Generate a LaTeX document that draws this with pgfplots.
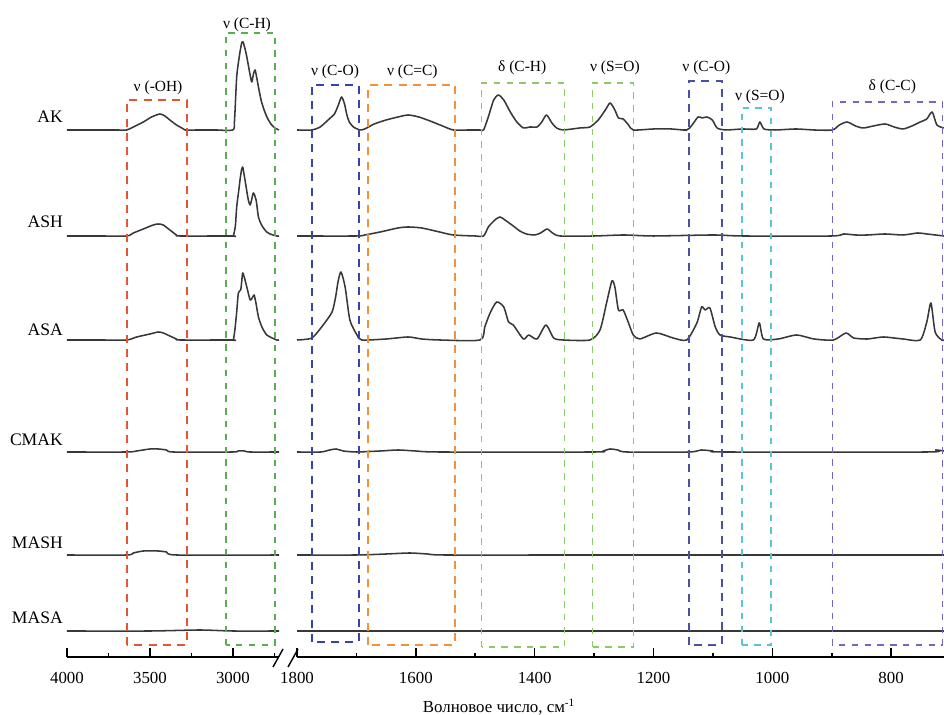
\documentclass[border=0pt]{standalone}
\usepackage{fontspec}
\setmainfont{Liberation Serif}
\usepackage{pgfplots}
\pgfplotsset{compat=1.18}

\definecolor{specgray}{HTML}{383838}
\definecolor{boxred}{HTML}{E4572E}
\definecolor{boxgreen}{HTML}{55B04F}
\definecolor{boxblue}{HTML}{3346A8}
\definecolor{boxorange}{HTML}{F0923A}
\definecolor{boxlgreen}{HTML}{8DC86B}
\definecolor{boxnavy}{HTML}{4B4FA6}
\definecolor{boxcyan}{HTML}{58C4D6}
\definecolor{boxpurple}{HTML}{6E6AC0}

\pgfplotsset{
  spec/.style={
    scale only axis, height=164.25mm, ymin=0, ymax=657,
    x dir=reverse, axis x line*=bottom, axis y line=none,
    axis line style={line width=1.2pt},
    xtick align=inside, major tick length=2.2mm, minor tick length=1mm,
    tick style={line width=1.1pt, black},
    ytick=\empty, clip=false, anchor=south west,
    xticklabel style={font=\fontsize{12}{14}\selectfont, yshift=-2.5mm},
    /pgf/number format/assume math mode=true,
    /pgf/number format/1000 sep={},
  },
  sp/.style={no marks, smooth, tension=0.4, line width=1.1pt, color=specgray, line join=round},
}
\tikzset{
  box/.style={line width=1.2pt, dash pattern=on 2mm off 1.6mm},
  lbox/.style={line width=1pt, dash pattern=on 1.6mm off 1.6mm},
  lab/.style={font=\fontsize{11}{13}\selectfont, inner sep=0pt},
  name/.style={font=\fontsize{12.5}{14}\selectfont, anchor=east, inner sep=0pt},
}

\begin{document}
\begin{tikzpicture}[x=0.25mm, y=0.25mm]
\useasboundingbox (0,0) rectangle (944,715);

% left part: 4000-2722
\begin{axis}[spec, at={(16.75mm,14.5mm)}, width=53mm, xmin=2722, xmax=4000,
  xtick={3000,3500,4000}, minor xtick={2750,3250,3750}]
\addplot[sp] coordinates {(4000,527) (3800,527) (3700,527) (3640,527) (3600,530) (3540,535) (3490,540) (3440,543) (3410,541) (3380,537) (3340,532) (3308,529) (3288,527) (3200,527) (3100,527) (3000,527) (2990,537) (2977,580) (2960,602) (2947,614) (2939,615) (2928,609) (2916,600) (2896,582) (2886,575) (2876,583) (2866,587) (2856,579) (2846,570) (2830,557) (2816,549) (2800,542) (2786,537) (2766,532) (2746,529) (2722,527)};
\addplot[sp] coordinates {(4000,421) (3800,421) (3640,421) (3600,424) (3540,428) (3480,432) (3450,433) (3420,432) (3380,427) (3340,422) (3320,421) (3000,421) (2997,421) (2985,431) (2977,450) (2965,466) (2957,477) (2948,487) (2941,490) (2934,484) (2927,477) (2907,457) (2896,452) (2886,458) (2876,464) (2860,457) (2846,440) (2830,433) (2816,429) (2796,425) (2776,423) (2736,421) (2722,421)};
\addplot[sp] coordinates {(4000,317) (3800,317) (3640,317) (3580,320) (3500,323) (3450,325) (3420,324) (3380,321) (3340,318) (3320,317) (3000,317) (2997,317) (2988,327) (2977,345) (2967,364) (2953,367) (2947,375) (2941,384) (2930,379) (2916,370) (2896,357) (2884,359) (2872,362) (2860,353) (2846,340) (2830,332) (2816,327) (2796,322) (2776,320) (2736,317) (2722,317)};
\addplot[sp] coordinates {(4000,205) (3640,205) (3580,206) (3500,208) (3450,208) (3400,207) (3360,205) (3000,205) (2970,206) (2930,206) (2900,205) (2722,205)};
\addplot[sp] coordinates {(4000,102) (3640,102) (3600,104) (3540,106) (3450,106) (3400,105) (3340,102) (2722,102)};
\addplot[sp] coordinates {(4000,26) (3500,26) (3200,27) (3000,26) (2722,26)};

\draw[box, boxred] (axis cs:3638,12) rectangle (axis cs:3275,557);
\draw[lbox, boxgreen] (axis cs:3041,12) rectangle (axis cs:2746,624);
\node[lab] at (axis cs:3451,569) {ν (-OH)};
\node[lab] at (axis cs:2915,632) {ν (C-H)};

\node[name] at (axis cs:4024,540) {AK};
\node[name] at (axis cs:4024,435) {ASH};
\node[name] at (axis cs:4024,327) {ASA};
\node[name] at (axis cs:4024,217) {CMAK};
\node[name] at (axis cs:4024,114) {MASH};
\node[name] at (axis cs:4024,39) {MASA};
\end{axis}

% right part: 1800-711
\begin{axis}[spec, at={(74.25mm,14.5mm)}, width=161.75mm, xmin=711, xmax=1800,
  xtick={800,1000,1200,1400,1600,1800}, minor xtick={900,1100,1300,1500,1700}]
\addplot[sp] coordinates {(1800,527) (1775,527) (1761,530) (1744,539) (1737,543) (1731,551) (1725,560) (1720,553) (1716,542) (1712,535) (1705,530) (1694,527) (1686,528) (1670,533) (1650,537) (1630,540) (1613,542) (1595,540) (1576,536) (1555,531) (1537,527) (1510,527) (1492,527) (1486,527) (1478,540) (1469,557) (1461,562) (1452,557) (1441,545) (1430,535) (1419,529) (1408,530) (1396,530) (1388,535) (1380,542) (1371,534) (1363,529) (1352,527) (1324,529) (1307,530) (1293,537) (1281,547) (1273,554) (1265,547) (1259,539) (1251,538) (1242,532) (1234,527) (1200,528) (1170,528) (1144,527) (1135,532) (1125,540) (1118,539) (1110,540) (1101,537) (1093,529) (1079,527) (1050,528) (1027,528) (1021,535) (1014,528) (995,527) (960,528) (930,527) (899,527) (887,532) (874,535) (860,531) (847,529) (830,531) (810,533) (795,530) (780,528) (765,531) (751,535) (740,538) (731,545) (723,532) (711,529)};
\addplot[sp] coordinates {(1800,421) (1700,421) (1686,422) (1660,425) (1630,429) (1613,430) (1590,429) (1560,425) (1537,422) (1500,421) (1486,421) (1478,430) (1472,434) (1465,438) (1458,440) (1450,437) (1436,431) (1425,426) (1414,423) (1400,422) (1390,424) (1379,428) (1370,424) (1357,421) (1300,421) (1250,422) (1200,421) (1100,422) (1050,421) (900,421) (880,423) (860,422) (840,422) (810,423) (780,422) (755,424) (740,423) (711,421)};
\addplot[sp] coordinates {(1800,317) (1775,319) (1756,332) (1741,345) (1735,360) (1731,375) (1726,385) (1719,370) (1711,337) (1699,322) (1691,317) (1650,318) (1613,320) (1590,318) (1560,317) (1492,317) (1484,330) (1475,344) (1464,355) (1452,350) (1444,335) (1436,332) (1419,318) (1410,322) (1396,318) (1381,332) (1368,319) (1352,317) (1307,317) (1290,327) (1279,354) (1270,376) (1265,370) (1259,347) (1251,347) (1242,334) (1234,322) (1223,318) (1195,324) (1167,319) (1144,317) (1127,334) (1119,350) (1113,347) (1105,349) (1096,330) (1088,322) (1071,320) (1032,317) (1022,334) (1015,318) (990,318) (959,322) (930,318) (897,317) (876,324) (863,319) (840,318) (813,320) (780,318) (751,317) (740,335) (733,354) (726,325) (715,317) (711,317)};
\addplot[sp] coordinates {(1800,205) (1760,205) (1745,207) (1734,208) (1722,206) (1700,205) (1660,206) (1630,207) (1600,206) (1560,205) (1300,205) (1285,206) (1273,208) (1260,207) (1245,205) (1140,205) (1120,207) (1100,206) (1080,205) (740,205) (725,207) (711,206)};
\addplot[sp] coordinates {(1800,102) (1700,102) (1650,103) (1610,104) (1580,103) (1550,102) (1300,102) (711,102)};
\addplot[sp] coordinates {(1800,26) (1500,26) (1000,26) (711,26)};

\draw[box, boxblue] (axis cs:1775,15) rectangle (axis cs:1696,572);
\draw[box, boxorange] (axis cs:1680,12) rectangle (axis cs:1534,572);
\draw[lbox, boxlgreen] (axis cs:1489,10) rectangle (axis cs:1350,574);
\draw[lbox, boxlgreen] (axis cs:1303,10) rectangle (axis cs:1234,574);
\draw[box, boxnavy] (axis cs:1140,12) rectangle (axis cs:1085,576);
\draw[lbox, boxcyan] (axis cs:1051,12) rectangle (axis cs:1002,549);
\draw[lbox, boxpurple] (axis cs:899,12) rectangle (axis cs:714,555);

\node[lab] at (axis cs:1736,585) {ν (C-O)};
\node[lab] at (axis cs:1606,585) {ν (C=C)};
\node[lab] at (axis cs:1421,589) {δ (C-H)};
\node[lab] at (axis cs:1265,589) {ν (S=O)};
\node[lab] at (axis cs:1111,589) {ν (C-O)};
\node[lab] at (axis cs:1021,560) {ν (S=O)};
\node[lab] at (axis cs:798,570) {δ (C-C)};

\node[font=\fontsize{12}{14}\selectfont] at (axis cs:1460,-50) {Волновое число, см\textsuperscript{-1}};
\end{axis}

% axis break marks
\draw[line width=1pt] (273,48) -- (283,66);
\draw[line width=1pt] (288,48) -- (298,66);
\end{tikzpicture}
\end{document}
